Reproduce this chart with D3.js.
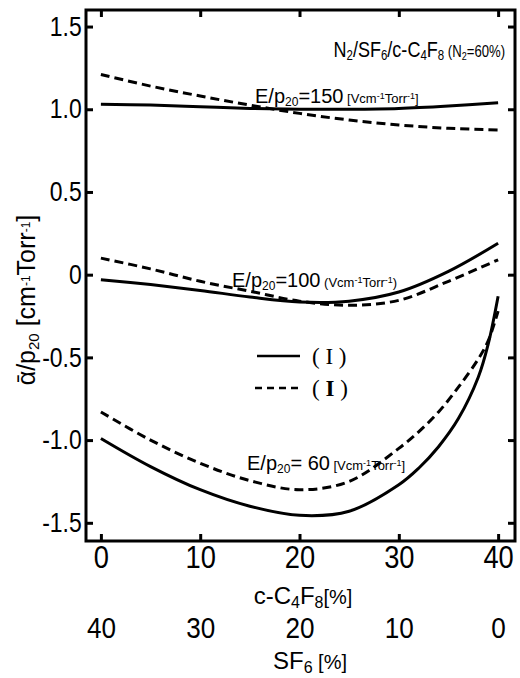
<!DOCTYPE html>
<html><head><meta charset="utf-8">
<script src="https://cdn.jsdelivr.net/npm/d3@7"></script>
<style>
html,body{margin:0;padding:0;background:#fff;}
svg{display:block;}
text{font-family:'Liberation Sans',Arial,sans-serif;fill:#000;}
</style></head>
<body><svg id="c" width="520" height="678"></svg>
<script>
// ---- data ----
const xTicks = [0, 10, 20, 30, 40];               // c-C4F8 [%]
const sf6Ticks = [40, 30, 20, 10, 0];             // SF6 [%]
const yTicks = [1.5, 1.0, 0.5, 0, -0.5, -1.0, -1.5];
const yTickLabels = ["1.5", "1.0", "0.5", "0", "-0.5", "-1.0", "-1.5"];

const xA = [0, 5, 10, 15, 20, 25, 30, 35, 40];
const e150_I  = [1.03, 1.025, 1.015, 1.005, 1.0, 1.0, 1.005, 1.02, 1.04];
const e150_II = [1.21, 1.14, 1.08, 1.025, 0.975, 0.935, 0.905, 0.885, 0.875];
const e100_I  = [-0.03, -0.06, -0.095, -0.135, -0.165, -0.16, -0.105, 0.02, 0.19];
const e100_II = [0.10, 0.035, -0.04, -0.10, -0.16, -0.185, -0.155, -0.04, 0.09];
const xB = [0, 5, 10, 15, 20, 25, 30, 32, 34, 36, 38, 39, 40];
const e60_I  = [-0.99, -1.16, -1.30, -1.40, -1.455, -1.43, -1.27, -1.17, -1.04, -0.87, -0.62, -0.42, -0.13];
const e60_II = [-0.83, -1.0, -1.14, -1.245, -1.30, -1.25, -1.05, -0.95, -0.83, -0.68, -0.51, -0.40, -0.22];

// ---- layout ----
const L = 86, R = 515, T = 10, B = 541;
const svg = d3.select("#c");
const x = d3.scaleLinear().domain([-1.5, 41.7]).range([L, R]);
const y = d3.scaleLinear().domain([-1.61, 1.6]).range([B, T]);

// frame
svg.append("rect").attr("x", L).attr("y", T).attr("width", R - L).attr("height", B - T)
  .attr("fill", "none").attr("stroke", "#000").attr("stroke-width", 3);

function styleAxis(g){
  g.select(".domain").remove();
  g.selectAll(".tick line").attr("stroke", "#000").attr("stroke-width", 3);
}
function tickText(g, size, sx){
  g.selectAll(".tick text").attr("font-size", size).attr("font-family", null)
    .attr("transform", `scale(${sx},1)`);
}
// bottom axis (c-C4F8)
svg.append("g").attr("transform", `translate(0,${B})`)
  .call(d3.axisBottom(x).tickValues(xTicks).tickSizeInner(-7).tickSizeOuter(0).tickPadding(5).tickFormat(d3.format("d")))
  .call(styleAxis)
  .call(g => tickText(g, 31, 0.88));
// second row (SF6)
svg.append("g").attr("transform", `translate(0,${B + 76})`)
  .call(d3.axisBottom(x).tickValues(xTicks).tickSize(0).tickPadding(0).tickFormat((d, i) => sf6Ticks[i]))
  .call(g => g.select(".domain").remove())
  .call(g => tickText(g, 29, 0.9));
// top axis
svg.append("g").attr("transform", `translate(0,${T})`)
  .call(d3.axisTop(x).tickValues(xTicks).tickSizeInner(-7).tickSizeOuter(0).tickFormat(""))
  .call(styleAxis);
// left axis
svg.append("g").attr("transform", `translate(${L},0)`)
  .call(d3.axisLeft(y).tickValues(yTicks).tickSizeInner(-7).tickSizeOuter(0).tickPadding(5)
        .tickFormat((d, i) => yTickLabels[i]))
  .call(styleAxis)
  .call(g => tickText(g, 27, 0.85));
// right axis
svg.append("g").attr("transform", `translate(${R},0)`)
  .call(d3.axisRight(y).tickValues(yTicks).tickSizeInner(-7).tickSizeOuter(0).tickFormat(""))
  .call(styleAxis);

// curves
const line = d3.line().x(d => x(d[0])).y(d => y(d[1])).curve(d3.curveCatmullRom.alpha(0.5));
const series = [
  {xs: xA, ys: e150_I, dash: null},
  {xs: xA, ys: e150_II, dash: "9,5"},
  {xs: xA, ys: e100_I, dash: null},
  {xs: xA, ys: e100_II, dash: "9,5"},
  {xs: xB, ys: e60_I, dash: null},
  {xs: xB, ys: e60_II, dash: "9,5"},
];
series.forEach(s => {
  svg.append("path").datum(s.xs.map((v, i) => [v, s.ys[i]]))
    .attr("d", line).attr("fill", "none").attr("stroke", "#000")
    .attr("stroke-width", 3).attr("stroke-dasharray", s.dash);
});

// rich text helper
function rich(px, py, parts, size, anchor, sx, rotate){
  const t = svg.append("text").attr("x", 0).attr("y", 0)
    .attr("font-size", size).attr("text-anchor", anchor || "start")
    .attr("transform", `translate(${px},${py})` + (rotate ? ` rotate(${rotate})` : "") + (sx ? ` scale(${sx},1)` : ""));
  parts.forEach(p => {
    const sp = t.append("tspan").text(p.t);
    if (p.size) sp.attr("font-size", p.size);
    if (p.sub) sp.attr("baseline-shift", "-25%");
    if (p.sup) sp.attr("baseline-shift", "40%");
    if (p.bold) sp.attr("font-weight", "bold");
  });
  return t;
}

// title
rich(505, 57, [
  {t: "N"}, {t: "2", sub: 1, size: 14}, {t: "/SF"}, {t: "6", sub: 1, size: 14},
  {t: "/c-C"}, {t: "4", sub: 1, size: 14}, {t: "F"}, {t: "8", sub: 1, size: 14},
  {t: " (N", size: 16}, {t: "2", sub: 1, size: 11}, {t: "=60%)", size: 16}
], 22, "end", 0.82);

function epLabel(px, py, val, o, c){
  rich(px, py, [
    {t: "E/p"}, {t: "20", sub: 1, size: 12}, {t: "=" + val},
    {t: " " + o + "Vcm", size: 13}, {t: "-1", sup: 1, size: 9}, {t: "Torr", size: 13},
    {t: "-1", sup: 1, size: 9}, {t: c, size: 13}
  ], 20, "start");
}
epLabel(255, 103, "150", "[", "]");
epLabel(232, 287, "100", "(", ")");
epLabel(247, 470, " 60", "[", "]");

// legend
svg.append("line").attr("x1", 257).attr("x2", 300).attr("y1", 356).attr("y2", 356)
  .attr("stroke", "#000").attr("stroke-width", 2.5);
svg.append("line").attr("x1", 255).attr("x2", 300).attr("y1", 388).attr("y2", 388)
  .attr("stroke", "#000").attr("stroke-width", 2.5).attr("stroke-dasharray", "7,5");
rich(312, 364, [{t: "( I )"}], 23, "start").style("font-family", "'Liberation Serif','DejaVu Serif',serif");
rich(312, 396, [{t: "( "}, {t: "I", bold: 1}, {t: " )"}], 23, "start").style("font-family", "'Liberation Serif','DejaVu Serif',serif");

// axis titles
rich(303, 604, [{t: "c-C"}, {t: "4", sub: 1, size: 16}, {t: "F"}, {t: "8", sub: 1, size: 16}, {t: "[%]", size: 20}], 24, "middle");
rich(310, 669, [{t: "SF"}, {t: "6", sub: 1, size: 16}, {t: " [%]", size: 20}], 24, "middle");

// y title
rich(35, 300, [
  {t: "ᾱ/p"}, {t: "20", sub: 1, size: 15}, {t: " [cm"}, {t: "-1", sup: 1, size: 12},
  {t: "Torr"}, {t: "-1", sup: 1, size: 12}, {t: "]"}
], 25, "middle", null, -90);
</script></body></html>
